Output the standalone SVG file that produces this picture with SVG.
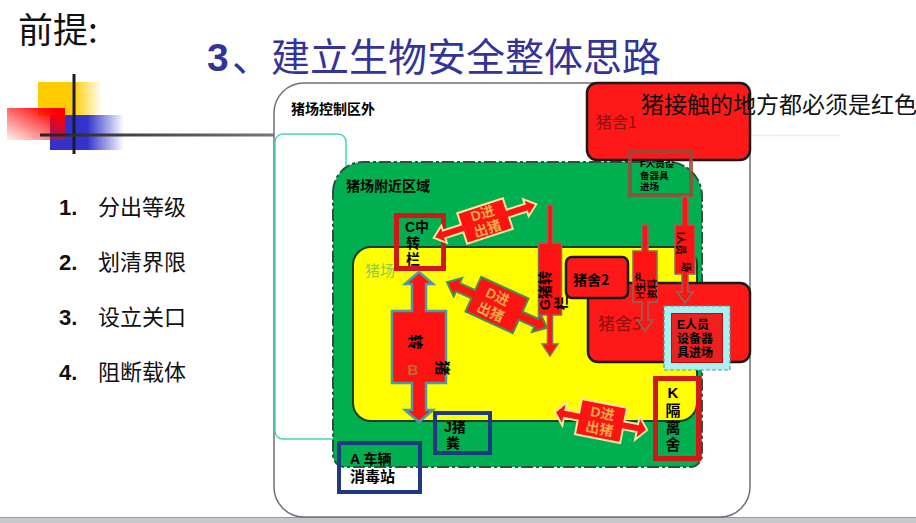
<svg xmlns="http://www.w3.org/2000/svg" width="916" height="523" viewBox="0 0 916 523">
<defs>
<linearGradient id="gY" x1="0" y1="0" x2="1" y2="0"><stop offset="0" stop-color="#ffcc00"/><stop offset="0.55" stop-color="#ffcc00"/><stop offset="1" stop-color="#ffcc00" stop-opacity="0"/></linearGradient>
<linearGradient id="gB" x1="0" y1="0" x2="1" y2="0"><stop offset="0" stop-color="#3333cc"/><stop offset="0.5" stop-color="#3333cc"/><stop offset="1" stop-color="#3333cc" stop-opacity="0"/></linearGradient>
<linearGradient id="gR" x1="0" y1="1" x2="1" y2="0"><stop offset="0" stop-color="#ff0000" stop-opacity="0.05"/><stop offset="0.85" stop-color="#ff0000"/><stop offset="1" stop-color="#ee0000"/></linearGradient>
<linearGradient id="gL" x1="0" y1="0" x2="1" y2="0"><stop offset="0" stop-color="#222"/><stop offset="1" stop-color="#777"/></linearGradient>
<style>
.cjk{font-family:"Noto Sans CJK SC","Liberation Sans",sans-serif}
.lbl{font-family:"Noto Sans CJK SC","Liberation Sans",sans-serif;font-weight:bold;fill:#000}
.stk{font-family:"Liberation Sans","Noto Sans CJK SC",sans-serif;font-weight:bold;fill:#000}
.pen{fill:#ff1818;stroke:#1a1a1a;stroke-width:2.5}
.red{fill:#ff1212}
.dtxt{font-family:"Liberation Sans","Noto Sans CJK SC",sans-serif;font-weight:bold;font-size:14px;fill:#f0a848;text-anchor:middle}
.redbox{fill:none;stroke:#d01818;stroke-width:5}
.bluebox{fill:none;stroke:#1f3a80;stroke-width:4}
</style>
</defs>
<rect width="916" height="523" fill="#fff"/>

<g id="decor">
<rect x="38" y="82" width="64" height="34" fill="url(#gY)"/>
<rect x="50" y="115" width="74" height="35" fill="url(#gB)"/>
<rect x="7" y="108" width="58" height="32" fill="url(#gR)"/>
<line x1="74" y1="74" x2="74" y2="154" stroke="#1a1a2a" stroke-width="3"/>
<rect x="40" y="133.5" width="234" height="3" fill="url(#gL)"/>
<line x1="750" y1="135.5" x2="840" y2="135.5" stroke="#eeeeee" stroke-width="1.5"/>
<rect x="0" y="518" width="916" height="5" fill="#c8c8cc"/>
<line x1="0" y1="517.5" x2="916" y2="517.5" stroke="#999" stroke-width="1"/>
</g>

<g id="titles">
<text x="18" y="43" class="cjk" font-size="35" fill="#111">前提:</text>
<text x="207" y="71" font-family="Liberation Sans,sans-serif" font-weight="bold" font-size="39" fill="#333399">3</text>
<text x="232" y="71" class="cjk" font-size="39" fill="#333399">、建立生物安全整体思路</text>
<g font-size="22" fill="#111">
<text x="59" y="215" font-family="Liberation Sans,sans-serif" font-weight="bold">1.</text>
<text x="98" y="215" class="cjk">分出等级</text>
<text x="59" y="270" font-family="Liberation Sans,sans-serif" font-weight="bold">2.</text>
<text x="98" y="270" class="cjk">划清界限</text>
<text x="59" y="325" font-family="Liberation Sans,sans-serif" font-weight="bold">3.</text>
<text x="98" y="325" class="cjk">设立关口</text>
<text x="59" y="380" font-family="Liberation Sans,sans-serif" font-weight="bold">4.</text>
<text x="98" y="380" class="cjk">阻断载体</text>
</g>
</g>

<g id="outer-zone">
<rect x="274" y="83" width="476" height="434" rx="30" fill="none" stroke="#707070" stroke-width="1.5"/>
<text x="291" y="114" class="lbl" font-size="14">猪场控制区外</text>
</g>
<g id="cyan-zone">
<rect x="275" y="134" width="71" height="305" rx="8" fill="#fff" stroke="#40d8b8" stroke-width="1.5"/>
</g>
<g id="nearby-zone">
<path d="M333,192 A30,30 0 0 1 363,162 L668,162 A34,34 0 0 1 702,196 L702,455 A12,12 0 0 1 690,467 L345,467 A12,12 0 0 1 333,455 Z" fill="#00b050" stroke="#2f4f3f" stroke-width="2" stroke-dasharray="12 3 3 3"/>
<text x="346" y="191" class="lbl" font-size="14">猪场附近区域</text>
</g>
<g id="farm-zone">
<rect x="353" y="247" width="344" height="174" rx="18" fill="#ffff00" stroke="#1e4020" stroke-width="2"/>
<text x="365" y="276" class="cjk" font-size="15" fill="#8ccc4c">猪场</text>
</g>

<g id="house1">
<rect x="587" y="83" width="163" height="77" rx="10" class="pen"/>
<text x="596" y="128" class="cjk" font-size="16" fill="#8b1010">猪舍1</text>
</g>
<g id="house3">
<rect x="588" y="283" width="162" height="79" rx="10" class="pen"/>
<text x="598" y="330" class="cjk" font-size="17" fill="#8b1010">猪舍3</text>
</g>
<g id="house2">
<rect x="566" y="257" width="62" height="41" rx="6" class="pen"/>
<text x="573" y="285" class="lbl" font-size="14" fill="#1a0a0a">猪舍2</text>
</g>

<g id="C">
<rect x="396.5" y="215.5" width="47" height="53" class="redbox"/>
<text class="stk" font-size="14" fill="#0a200a"><tspan x="405" y="232">C中</tspan><tspan x="406" y="248">转</tspan><tspan x="406" y="264">栏</tspan></text>
</g>
<g id="J">
<rect x="435" y="413" width="55" height="40" class="bluebox"/>
<text class="stk" font-size="14"><tspan x="444" y="432">J猪</tspan><tspan x="446" y="448">粪</tspan></text>
</g>
<g id="A">
<rect x="339" y="443" width="81" height="49" class="bluebox"/>
<text x="350" y="464" class="stk" font-size="14" fill="#e03030">A 车辆</text>
<text x="350" y="482" class="stk" font-size="15" fill="#c01010">消毒站</text>
</g>
<g id="K">
<rect x="655.5" y="378.5" width="43" height="80" class="redbox"/>
<text class="stk" font-size="15" text-anchor="middle"><tspan x="673" y="398">K</tspan><tspan x="673" y="416">隔</tspan><tspan x="673" y="433">离</tspan><tspan x="673" y="450">舍</tspan></text>
</g>
<g id="F">
<rect x="630" y="152" width="61" height="43" fill="none" stroke="#9a4a3a" stroke-width="4" opacity="0.85"/>
<text class="stk" font-size="9.5"><tspan x="640" y="167">F人员设</tspan><tspan x="640" y="178.5">备器具</tspan><tspan x="640" y="190">进场</tspan></text>
</g>

<g id="connectors">
<g id="B-arrow">
<path transform="translate(419,347) rotate(90)" class="red" stroke="#4a9aaa" stroke-width="2.5" d="M-75,0 L-63,-14 L-63,-7 L-36,-7 L-36,-27 L36,-27 L36,-7 L63,-7 L63,-14 L75,0 L63,14 L63,7 L36,7 L36,27 L-36,27 L-36,7 L-63,7 L-63,14 Z"/>
<text class="lbl" font-size="15" text-anchor="middle" transform="translate(415,342) rotate(90)" dy="5">转</text>
<text class="lbl" font-size="15" text-anchor="middle" transform="translate(442,368) rotate(90)" dy="5">猪</text>
<text x="413" y="375" text-anchor="middle" font-family="Liberation Sans,sans-serif" font-weight="bold" font-size="15" fill="#c06a30">B</text>
</g>
<g id="D1" transform="translate(485,221) rotate(-18)">
<path class="red" stroke="#f5e6a0" stroke-width="2" d="M-54,0 L-43,-9 L-43,-4 L-24,-4 L-24,-16 L24,-16 L24,-4 L43,-4 L43,-9 L54,0 L43,9 L43,4 L24,4 L24,16 L-24,16 L-24,4 L-43,4 L-43,9 Z"/>
<text class="dtxt"><tspan x="0" y="-3">D进</tspan><tspan x="0" y="13">出猪</tspan></text>
</g>
<g id="D2" transform="translate(497,305) rotate(24.5)">
<path class="red" stroke="#4c8a5c" stroke-width="2" d="M-55,0 L-43,-10 L-43,-4.5 L-26,-4.5 L-26,-19 L26,-19 L26,-4.5 L43,-4.5 L43,-10 L55,0 L43,10 L43,4.5 L26,4.5 L26,19 L-26,19 L-26,4.5 L-43,4.5 L-43,10 Z"/>
<text class="dtxt" font-size="15"><tspan x="-3" y="-3">D进</tspan><tspan x="-3" y="14">出猪</tspan></text>
</g>
<g id="D3" transform="translate(601,421) rotate(11)">
<path class="red" stroke="#f5e6a0" stroke-width="2" d="M-47,0 L-37,-12 L-37,-4 L-23,-4 L-23,-18 L23,-18 L23,-4 L37,-4 L37,-12 L47,0 L37,12 L37,4 L23,4 L23,18 L-23,18 L-23,4 L-37,4 L-37,12 Z"/>
<text class="dtxt"><tspan x="0" y="-3">D进</tspan><tspan x="0" y="13">出猪</tspan></text>
</g>
<g id="G-arrow">
<path class="red" stroke="#8a6a5a" stroke-width="1.5" d="M547.5,205 L552.5,205 L552.5,243 L561.5,243 L561.5,315 L552.5,315 L552.5,344 L558,344 L550,356 L542,344 L547.5,344 L547.5,315 L538.5,315 L538.5,243 L547.5,243 Z"/>
<text class="stk" font-size="14" transform="translate(550,310) rotate(-90)">G猪转</text>
<text class="stk" font-size="14" transform="translate(566,310) rotate(-90)">栏</text>
</g>
<g id="H-arrow">
<path class="red" stroke="#8a6a5a" stroke-width="1.5" d="M642,225 L648,225 L648,251 L657,251 L657,302 L648,302 L648,320 L653,320 L645,331 L637,320 L642,320 L642,302 L633,302 L633,251 L642,251 Z"/>
<text class="stk" font-size="10" transform="translate(644,299) rotate(-90)">H生产</text>
<text class="stk" font-size="10" transform="translate(656,299) rotate(-90)">资料</text>
</g>
<g id="I-arrow">
<path class="red" stroke="#8a6a5a" stroke-width="1.5" d="M682,197 L688,197 L688,225 L695,225 L695,274 L688,274 L688,292 L693,292 L685,303 L677,292 L682,292 L682,274 L675,274 L675,225 L682,225 Z"/>
<text class="stk" font-size="10" transform="translate(677,232) rotate(90)">I人员</text>
<text class="stk" font-size="10" transform="translate(682,262) rotate(90)">场</text>
</g>
</g>

<g id="E">
<rect x="667.5" y="309.5" width="59" height="57" fill="#ee2020" stroke="#aaf2f2" stroke-width="7"/>
<rect x="664" y="306" width="66" height="64" fill="none" stroke="#5a9a9a" stroke-width="1.2" stroke-dasharray="4 2"/>
<rect x="671.5" y="313.5" width="51" height="49" fill="none" stroke="#b01010" stroke-width="1"/>
<text class="stk" font-size="12"><tspan x="677" y="329">E人员</tspan><tspan x="677" y="343">设备器</tspan><tspan x="677" y="357">具进场</tspan></text>
</g>

<g id="note">
<text x="641" y="113" class="cjk" font-size="23" fill="#111">猪接触的地方都必须是红色</text>
</g>
</svg>
